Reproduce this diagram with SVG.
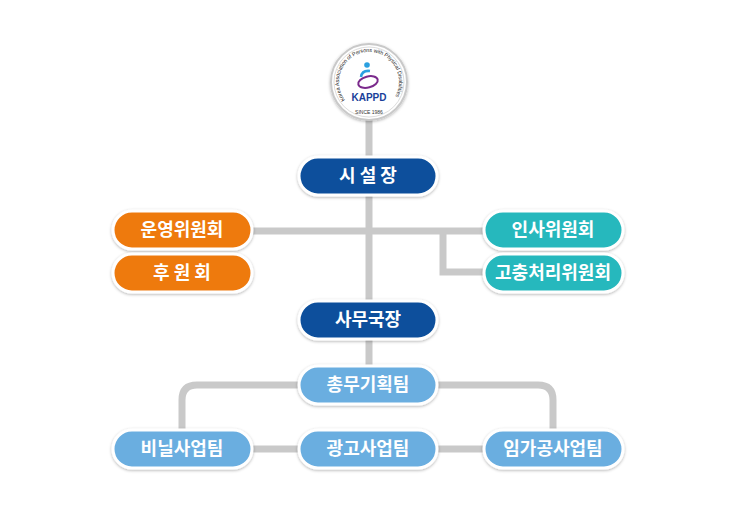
<svg xmlns="http://www.w3.org/2000/svg" width="738" height="510" viewBox="0 0 738 510">
<defs>
<style>
.n{stroke:#fff;stroke-width:3}
.t{font-family:"Noto Sans CJK KR","Noto Sans",sans-serif;font-weight:bold;font-size:18px;fill:#fff;text-anchor:middle}
.c{fill:none;stroke:#c9c9c9;stroke-width:7}
</style>
<filter id="sh" x="-10%" y="-20%" width="120%" height="150%"><feDropShadow dx="0" dy="1" stdDeviation="1.5" flood-color="#000" flood-opacity="0.3"/></filter>
<path id="arc" d="M345 100A30 30 0 1 1 393 100"/>
</defs>
<rect width="738" height="510" fill="#fff"/>
<g id="connectors" class="c">
<path d="M369 115V385"/>
<path d="M252 231H484M443 231V272H484"/>
<path d="M299 385H197Q182 385 182 400V430M437 385H538Q553 385 553 400V430"/>
<path d="M252 449H484"/>
</g>
<g id="logo">
<circle cx="369" cy="82" r="38" fill="#fff" stroke="#c9c9c9" stroke-width="2" filter="url(#sh)"/>
<circle cx="369" cy="82" r="35" fill="none" stroke="#ddd" stroke-width="1"/>
<text font-family="Liberation Sans,sans-serif" font-size="5.5" fill="#222"><textPath href="#arc" textLength="128" lengthAdjust="spacingAndGlyphs">Korea Association of Persons with Physical Disabilities</textPath></text>
<text x="369" y="101" font-family="Liberation Sans,sans-serif" font-weight="bold" font-size="10" fill="#1a3f9a" text-anchor="middle">KAPPD</text>
<text x="369" y="114" font-family="Liberation Sans,sans-serif" font-size="5" fill="#333" text-anchor="middle">SINCE 1986</text>
<ellipse cx="368" cy="82" rx="10" ry="5.5" fill="none" stroke="#7b2a8c" stroke-width="2" transform="rotate(-15 368 82)"/>
<path d="M361 77Q362 70 370 71" fill="none" stroke="#2aa0e0" stroke-width="2.5"/>
<circle cx="367" cy="65" r="2.8" fill="#2aa0e0"/>
</g>
<g id="n1"><rect class="n" x="299" y="157" width="138" height="38" rx="19" fill="#0a4f9c" filter="url(#sh)"/><text class="t" x="368" y="182">시 설 장</text></g>
<g id="n2"><rect class="n" x="113" y="211" width="139" height="38" rx="19" fill="#ee7a10" filter="url(#sh)"/><text class="t" x="182" y="236">운영위원회</text></g>
<g id="n3"><rect class="n" x="113" y="254" width="139" height="38" rx="19" fill="#ee7a10" filter="url(#sh)"/><text class="t" x="182" y="279">후 원 회</text></g>
<g id="n4"><rect class="n" x="484" y="211" width="139" height="38" rx="19" fill="#26b8bd" filter="url(#sh)"/><text class="t" x="553" y="236">인사위원회</text></g>
<g id="n5"><rect class="n" x="484" y="254" width="139" height="38" rx="19" fill="#26b8bd" filter="url(#sh)"/><text class="t" x="553" y="279">고충처리위원회</text></g>
<g id="n6"><rect class="n" x="299" y="301" width="138" height="38" rx="19" fill="#0a4f9c" filter="url(#sh)"/><text class="t" x="368" y="326">사무국장</text></g>
<g id="n7"><rect class="n" x="299" y="366" width="138" height="38" rx="19" fill="#6aaee0" filter="url(#sh)"/><text class="t" x="368" y="391">총무기획팀</text></g>
<g id="n8"><rect class="n" x="113" y="430" width="139" height="38" rx="19" fill="#6aaee0" filter="url(#sh)"/><text class="t" x="182" y="455">비닐사업팀</text></g>
<g id="n9"><rect class="n" x="299" y="430" width="138" height="38" rx="19" fill="#6aaee0" filter="url(#sh)"/><text class="t" x="368" y="455">광고사업팀</text></g>
<g id="n10"><rect class="n" x="484" y="430" width="139" height="38" rx="19" fill="#6aaee0" filter="url(#sh)"/><text class="t" x="553" y="455">임가공사업팀</text></g>
</svg>
